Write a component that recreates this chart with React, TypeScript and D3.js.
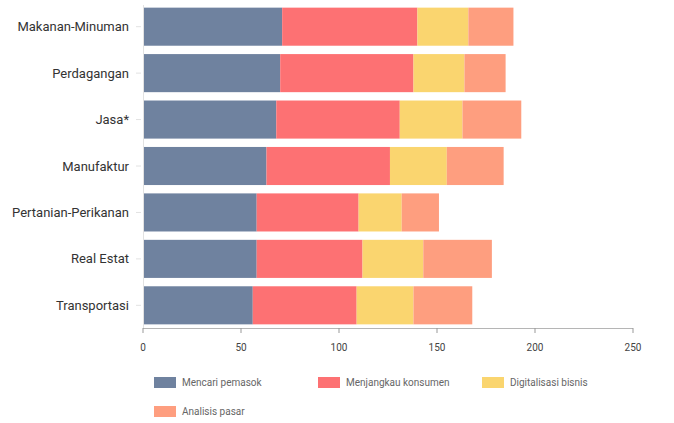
import * as d3 from "d3";
import { useEffect, useRef } from "react";

const categories = [
  "Makanan-Minuman",
  "Perdagangan",
  "Jasa*",
  "Manufaktur",
  "Pertanian-Perikanan",
  "Real Estat",
  "Transportasi",
];
const seriesNames = ["Mencari pemasok", "Menjangkau konsumen", "Digitalisasi bisnis", "Analisis pasar"];
const mencariPemasok = [71, 70, 68, 63, 58, 58, 56];
const menjangkauKonsumen = [69, 68, 63, 63, 52, 54, 53];
const digitalisasiBisnis = [26, 26, 32, 29, 22, 31, 29];
const analisisPasar = [23, 21, 30, 29, 19, 35, 30];
const xTicks = [0, 50, 100, 150, 200, 250];
const colors = ["#6f829f", "#fd7173", "#fad56f", "#fe9e7f"];

export default function App() {
  const ref = useRef<SVGSVGElement | null>(null);

  useEffect(() => {
    if (!ref.current) return;
    const width = 674;
    const height = 423;
    const svg = d3.select(ref.current);
    svg.selectAll("*").remove();
    svg.attr("viewBox", `0 0 ${width} ${height}`);

    const font = "Roboto, sans-serif";
    const x = d3.scaleLinear().domain([0, 250]).range([143, 633]);
    const y = d3.scaleBand().domain(categories).range([3, 329]).paddingInner(0.18).paddingOuter(0.1);

    const table = categories.map((c, i) => ({
      category: c,
      [seriesNames[0]]: mencariPemasok[i],
      [seriesNames[1]]: menjangkauKonsumen[i],
      [seriesNames[2]]: digitalisasiBisnis[i],
      [seriesNames[3]]: analisisPasar[i],
    }));
    const stacked = d3.stack<any>().keys(seriesNames)(table);

    // bars
    stacked.forEach((layer, li) => {
      svg
        .append("g")
        .selectAll("rect")
        .data(layer)
        .join("rect")
        .attr("x", (d) => x(d[0]))
        .attr("width", (d) => x(d[1]) - x(d[0]))
        .attr("y", (d) => y(d.data.category)!)
        .attr("height", y.bandwidth())
        .attr("fill", colors[li]);
    });

    // left axis line and ticks
    svg
      .append("line")
      .attr("x1", 143.5)
      .attr("x2", 143.5)
      .attr("y1", 5)
      .attr("y2", 329)
      .attr("stroke", "#e2e2e2");
    categories.forEach((c) => {
      const cy = y(c)! + y.bandwidth() / 2;
      svg
        .append("line")
        .attr("x1", 136)
        .attr("x2", 141)
        .attr("y1", cy)
        .attr("y2", cy)
        .attr("stroke", "#e2e2e2");
      svg
        .append("text")
        .attr("x", 129)
        .attr("y", cy)
        .attr("dy", "0.35em")
        .attr("text-anchor", "end")
        .attr("font-family", font)
        .attr("font-size", 13)
        .attr("fill", "#333")
        .text(c);
    });

    // bottom axis
    svg
      .append("line")
      .attr("x1", x(0))
      .attr("x2", x(250))
      .attr("y1", 328.5)
      .attr("y2", 328.5)
      .attr("stroke", "#b5b5b5");
    xTicks.forEach((t) => {
      svg
        .append("line")
        .attr("x1", x(t))
        .attr("x2", x(t))
        .attr("y1", 328)
        .attr("y2", 333)
        .attr("stroke", "#999");
      svg
        .append("text")
        .attr("x", x(t))
        .attr("y", 351)
        .attr("text-anchor", "middle")
        .attr("font-family", font)
        .attr("font-size", 10)
        .attr("fill", "#444")
        .text(t);
    });

    // legend
    const legendPos = [
      [154, 377],
      [318, 377],
      [482, 377],
      [154, 406],
    ];
    seriesNames.forEach((name, i) => {
      const [lx, ly] = legendPos[i];
      svg.append("rect").attr("x", lx).attr("y", ly).attr("width", 22).attr("height", 11).attr("fill", colors[i]);
      svg
        .append("text")
        .attr("x", lx + 28)
        .attr("y", ly + 5.5)
        .attr("dy", "0.35em")
        .attr("font-family", font)
        .attr("font-size", 10)
        .attr("fill", "#666")
        .text(name);
    });
  }, []);

  return (
    <svg
      ref={ref}
      width={674}
      height={423}
      style={{ position: "absolute", left: 0, top: 0, background: "#fff" }}
      aria-label="stacked bar chart"
    />
  );
}
